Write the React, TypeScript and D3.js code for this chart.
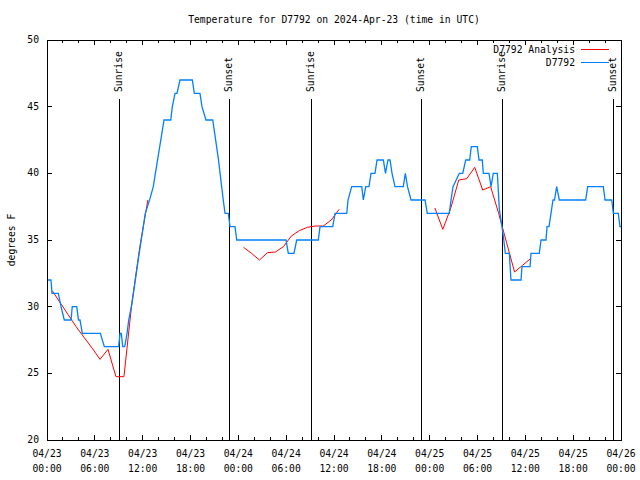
import React from "react";
import * as d3 from "d3";

const W = 640;
const H = 480;
const M = { left: 47, right: 621, top: 40, bottom: 440 };

const titleText = "Temperature for D7792 on 2024-Apr-23 (time in UTC)";
const yLabel = "degrees F";

const yTicks = [20, 25, 30, 35, 40, 45, 50];
const xTickHours = [0, 6, 12, 18, 24, 30, 36, 42, 48, 54, 60, 66, 72];
const xTickDates = ["04/23", "04/23", "04/23", "04/23", "04/24", "04/24", "04/24", "04/24", "04/25", "04/25", "04/25", "04/25", "04/26"];
const xTickTimes = ["00:00", "06:00", "12:00", "18:00", "00:00", "06:00", "12:00", "18:00", "00:00", "06:00", "12:00", "18:00", "00:00"];

const sunHours = [9.07, 22.87, 33.15, 46.95, 57.1, 71.05];
const sunLabels = ["Sunrise", "Sunset", "Sunrise", "Sunset", "Sunrise", "Sunset"];

// Observations D7792 (hours since 04/23 00:00 UTC, degrees F)
const obsHours = [
  0, 0.5, 0.63, 1.42, 1.76, 2.17, 3.01, 3.17, 3.73, 3.95, 4.14, 4.43, 6.69, 7.19, 8.99,
  9.16, 9.32, 9.5, 9.75, 10.04, 10.25, 10.66, 11.5, 12.33, 12.92, 13.33, 14.68, 15.52,
  15.72, 16.06, 16.31, 16.68, 18.23, 18.48, 19.19, 19.44, 19.94, 20.79, 21.49, 22.11,
  22.33, 22.74, 22.96, 23.58, 23.8, 29.98, 30.27, 30.98, 31.32, 34.03, 34.25, 35.84,
  36.13, 37.6, 37.76, 38.22, 39.48, 39.68, 39.98, 40.39, 40.64, 41.14, 41.4, 42.19,
  42.46, 42.77, 43.03, 43.28, 43.65, 44.69, 44.95, 45.22, 45.66, 47.42, 47.7, 50.46,
  50.68, 50.93, 51.72, 52.15, 52.52, 53.02, 53.22, 53.98, 54.19, 54.6, 54.73, 55.44,
  55.7, 55.98, 56.49, 56.74, 56.99, 57.24, 57.49, 57.99, 58.2, 59.46, 59.58, 60.59,
  60.71, 61.75, 61.97, 62.59, 62.72, 62.97, 63.22, 63.47, 63.66, 63.93, 64.26, 67.57,
  67.82, 69.78, 70.0, 70.84, 71.04, 71.66, 71.87, 72,
];
const obsTemps = [
  32, 32, 31, 31, 30, 29, 29, 30, 30, 29, 29, 28, 28, 27, 27,
  28, 28, 27, 27, 28, 29, 30.25, 33.75, 37, 38.1, 39, 44, 44,
  45, 46, 46, 47, 47, 46, 46, 45, 44, 44, 41.1, 38,
  37, 37, 36, 36, 35, 35, 34, 34, 35, 35, 36, 36,
  37, 37, 38, 39, 39, 38, 39, 39, 40, 40, 41, 41,
  40, 41, 41, 40, 39, 39, 40, 39, 38, 38, 37, 37,
  38, 39, 40, 40, 41, 41, 42, 42, 41, 41, 40, 40,
  39, 40, 40, 37.3, 36.3, 35.3, 34, 34, 32, 32, 33, 33,
  34, 34, 35, 35, 36, 36, 37, 38, 38, 39, 38, 38,
  39, 39, 38, 38, 37, 37, 36, 36,
];

// Analysis D7792 (null marks a gap)
const anaHours = [
  0.65, 1.65, 2.65, 3.65, 4.65, 5.65, 6.65, 7.65, 8.65, 9.65, 10.65, 11.65, 12.65,
  18,
  24.65, 25.65, 26.65, 27.65, 28.65, 29.65, 30.65, 31.65, 32.65, 33.65, 34.65, 35.65, 36.65,
  42,
  48.65, 49.65, 50.65, 51.65, 52.65, 53.65, 54.65, 55.65, 56.65, 57.65, 58.65, 59.65, 60.65,
];
const anaTemps = [
  31.2, 30.3, 29.4, 28.5, 27.7, 26.9, 26.05, 26.8, 24.75, 24.75, 30.3, 34.5, 38.0,
  null,
  34.45, 34.0, 33.5, 34.05, 34.1, 34.5, 35.3, 35.7, 35.95, 36.05, 36.05, 36.5, 37.3,
  null,
  37.4, 35.8, 37.4, 39.5, 39.6, 40.45, 38.75, 39.0, 37.0, 34.8, 32.6, 33.1, 33.6,
];

const legendNames = ["D7792 Analysis", "D7792"];
const colors = ["#ff0000", "#0080ff"];

const FONT = "'DejaVu Sans Mono', 'Liberation Mono', monospace";
const FS = 9.7;

export default function App() {
  const x = d3.scaleLinear().domain([0, 72]).range([M.left, M.right]);
  const y = d3.scaleLinear().domain([20, 50]).range([M.bottom, M.top]);

  const obs = obsHours.map((h, i) => ({ h, t: obsTemps[i] as number | null }));
  const ana = anaHours.map((h, i) => ({ h, t: anaTemps[i] as number | null }));

  const line = d3
    .line<{ h: number; t: number | null }>()
    .defined((d) => d.t != null)
    .x((d) => x(d.h))
    .y((d) => y(d.t as number));

  const minorHours = d3.range(0, 73, 2).filter((h) => h % 6 !== 0);
  const majorLen = 5;
  const minorLen = 3;

  return (
    <div style={{ position: "absolute", left: 0, top: 0 }}>
      <svg width={W} height={H} style={{ display: "block", background: "#fff" }}>
        <rect x={0} y={0} width={W} height={H} fill="#fff" />
        {/* title */}
        <text x={(M.left + M.right) / 2} y={23} textAnchor="middle" fontFamily={FONT} fontSize={FS} fill="#000">
          {titleText}
        </text>
        {/* y label */}
        <text
          transform={`translate(12,${(M.top + M.bottom) / 2}) rotate(-90)`}
          textAnchor="middle"
          dominantBaseline="middle"
          fontFamily={FONT}
          fontSize={FS}
          fill="#000"
        >
          {yLabel}
        </text>
        {/* y ticks */}
        {yTicks.map((v) => (
          <g key={"y" + v}>
            <line x1={M.left} x2={M.left + majorLen} y1={y(v)} y2={y(v)} stroke="#000" shapeRendering="crispEdges" />
            <line x1={M.right} x2={M.right - majorLen} y1={y(v)} y2={y(v)} stroke="#000" shapeRendering="crispEdges" />
            <text x={39} y={y(v)} textAnchor="end" dominantBaseline="middle" fontFamily={FONT} fontSize={FS} fill="#000">
              {v}
            </text>
          </g>
        ))}
        {/* x ticks */}
        {xTickHours.map((h, i) => (
          <g key={"x" + h}>
            <line x1={x(h)} x2={x(h)} y1={M.bottom} y2={M.bottom - majorLen} stroke="#000" shapeRendering="crispEdges" />
            <line x1={x(h)} x2={x(h)} y1={M.top} y2={M.top + majorLen} stroke="#000" shapeRendering="crispEdges" />
            <text x={x(h)} y={457} textAnchor="middle" fontFamily={FONT} fontSize={FS} fill="#000">
              {xTickDates[i]}
            </text>
            <text x={x(h)} y={472} textAnchor="middle" fontFamily={FONT} fontSize={FS} fill="#000">
              {xTickTimes[i]}
            </text>
          </g>
        ))}
        {minorHours.map((h) => (
          <g key={"m" + h}>
            <line x1={x(h)} x2={x(h)} y1={M.bottom} y2={M.bottom - minorLen} stroke="#000" shapeRendering="crispEdges" />
            <line x1={x(h)} x2={x(h)} y1={M.top} y2={M.top + minorLen} stroke="#000" shapeRendering="crispEdges" />
          </g>
        ))}
        {/* sunrise / sunset */}
        {sunHours.map((h, i) => (
          <g key={"s" + i}>
            <line x1={x(h)} x2={x(h)} y1={99} y2={M.bottom} stroke="#000" strokeWidth={1.2} shapeRendering="crispEdges" />
            <text
              transform={`translate(${x(h)},92) rotate(-90)`}
              textAnchor="start"
              dominantBaseline="middle"
              fontFamily={FONT}
              fontSize={FS}
              fill="#000"
            >
              {sunLabels[i]}
            </text>
          </g>
        ))}
        {/* series */}
        <path d={line(ana) || ""} fill="none" stroke={colors[0]} strokeWidth={1} />
        <path d={line(obs) || ""} fill="none" stroke={colors[1]} strokeWidth={1.3} />
        {/* legend */}
        {legendNames.map((name, i) => (
          <g key={"l" + i}>
            <text x={575} y={50 + i * 13} textAnchor="end" dominantBaseline="middle" fontFamily={FONT} fontSize={FS} fill="#000">
              {name}
            </text>
            <line x1={581} x2={609} y1={49.5 + i * 13} y2={49.5 + i * 13} stroke={colors[i]} strokeWidth={1} />
          </g>
        ))}
        {/* border */}
        <rect
          x={M.left}
          y={M.top}
          width={M.right - M.left}
          height={M.bottom - M.top}
          fill="none"
          stroke="#000"
          shapeRendering="crispEdges"
        />
      </svg>
    </div>
  );
}
